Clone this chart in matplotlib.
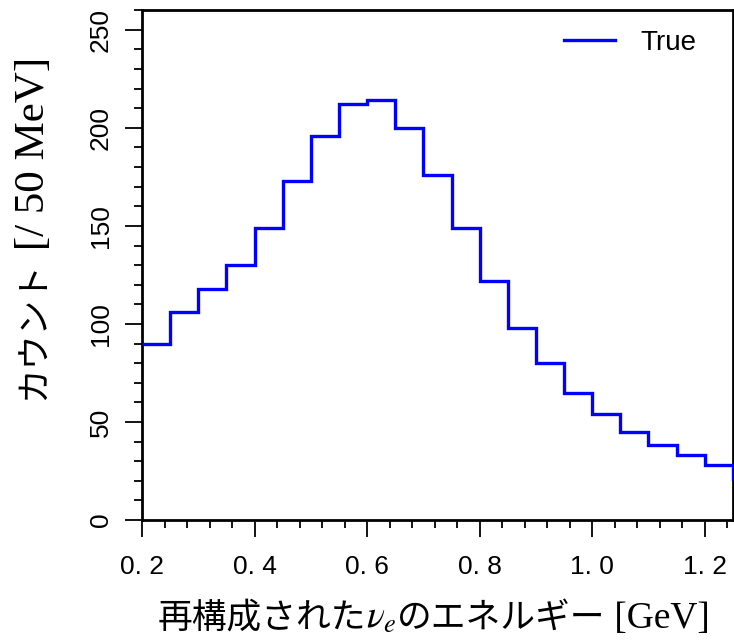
import numpy as np
import matplotlib
matplotlib.use("Agg")
import matplotlib.pyplot as plt
from matplotlib.ticker import MultipleLocator

plt.rcParams['mathtext.fontset'] = 'stix'

# 50 MeV bins of reconstructed nu_e energy (GeV)
bin_edges = np.linspace(0.20, 1.30, 23)
counts_true = [90, 106, 118, 130, 149, 173, 196, 212, 214, 200, 176,
               149, 122, 98, 80, 65, 54, 45, 38, 33, 28, 21]

xticks = [0.2, 0.4, 0.6, 0.8, 1.0, 1.2]
xtick_labels = ['0. 2', '0. 4', '0. 6', '0. 8', '1. 0', '1. 2']
yticks = [0, 50, 100, 150, 200, 250]

tick_font = 'Liberation Sans'
jp_font = 'Noto Sans CJK JP'
serif_font = 'Liberation Serif'

fig = plt.figure(figsize=(7.34, 6.40), dpi=100)
ax = fig.add_axes([0.1935, 0.1875, 0.805, 0.7965])

# open outline (no drop to zero at the outer edges)
ax.stairs(counts_true, bin_edges, baseline=None, color='#0000ff',
          linewidth=2.4, label='True', zorder=3)

ax.set_xlim(0.2, 1.25)
ax.set_ylim(0, 260)

ax.set_xticks(xticks)
ax.set_xticklabels(xtick_labels, family=tick_font, fontsize=19)
ax.set_yticks(yticks)
ax.set_yticklabels([str(v) for v in yticks], family=tick_font, fontsize=19,
                   rotation=90, va='center')
ax.xaxis.set_minor_locator(MultipleLocator(0.04))
ax.yaxis.set_minor_locator(MultipleLocator(10))

ax.tick_params(which='major', direction='out', length=12, width=1.3)
ax.tick_params(which='minor', direction='out', length=6, width=1.3)
ax.tick_params(axis='x', which='major', pad=13)
ax.tick_params(axis='y', which='major', pad=9)
for sp in ax.spines.values():
    sp.set_linewidth(2)

# x label: japanese gothic + math nu_e + serif unit, placed one after another
base_y = 0.019
prev = fig.text(158 / 734, base_y, '再構成された', family=jp_font, fontsize=25,
                va='baseline')
for s, kw in [('$\\nu_e$', dict(fontsize=27)),
              ('のエネルギー', dict(family=jp_font, fontsize=25)),
              (' [GeV]', dict(family=serif_font, fontsize=27))]:
    prev = ax.annotate(s, xy=(1, base_y), xycoords=(prev, 'figure fraction'),
                       va='baseline', ha='left', annotation_clip=False, **kw)

# y label: katakana + serif unit, stacked upward
ylab_x = 34 / 734
yl = fig.text(ylab_x, 240 / 640, 'カウント', family=jp_font, fontsize=25,
              rotation=90, ha='center', va='bottom')
ax.annotate(' [/ 50 MeV]', xy=(ylab_x, 1), xycoords=('figure fraction', yl),
            family=serif_font, fontsize=31, rotation=90, ha='center',
            va='bottom', annotation_clip=False)

ax.legend(loc='center right', frameon=False, handlelength=1.85,
          handletextpad=0.9, borderpad=0, borderaxespad=0,
          prop=dict(family=tick_font, size=20),
          bbox_to_anchor=(696 / 734, 597 / 640), bbox_transform=fig.transFigure)

fig.savefig('out.png', dpi=100)
